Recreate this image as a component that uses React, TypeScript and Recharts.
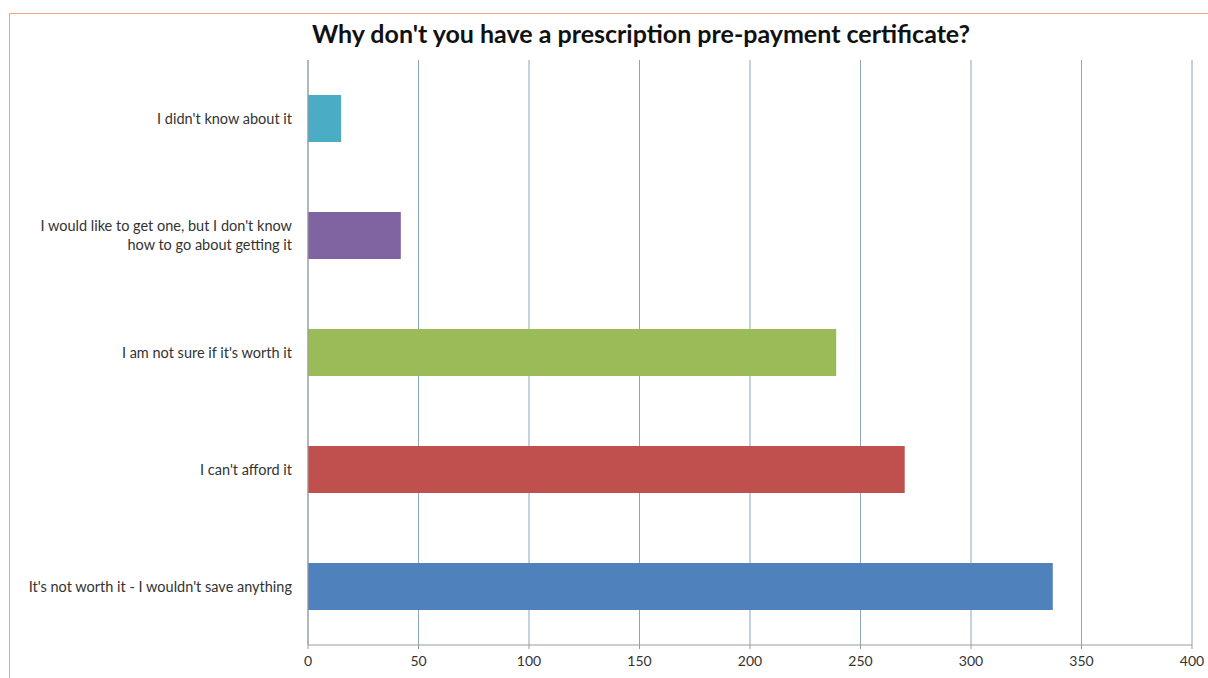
import { BarChart, Bar, XAxis, YAxis, CartesianGrid, Cell } from 'recharts';

const REASONS = [
  "I didn't know about it",
  "I would like to get one, but I don't know\nhow to go about getting it",
  "I am not sure if it's worth it",
  "I can't afford it",
  "It's not worth it - I wouldn't save anything",
];
const COUNTS = [15, 42, 239, 270, 337];
const BAR_COLORS = ['#4BACC6', '#8064A2', '#9BBB59', '#C0504D', '#4F81BD'];
const X_TICKS = [0, 50, 100, 150, 200, 250, 300, 350, 400];

const data = REASONS.map((reason, i) => ({ reason, count: COUNTS[i] }));

const FONT = 'Lato, "Open Sans", sans-serif';

// multi-line category labels, right aligned against the axis
const ReasonTick = (props: any) => {
  const { x, y, payload } = props;
  const lines = String(payload.value).split('\n');
  const lh = 19;
  const start = y - ((lines.length - 1) * lh) / 2;
  return (
    <text x={x - 8} y={start} textAnchor="end" fontFamily={FONT} fontSize={14.5} fill="#333">
      {lines.map((l, i) => (
        <tspan key={i} x={x - 8} y={start + i * lh} dy="0.35em">
          {l}
        </tspan>
      ))}
    </text>
  );
};

export default function App() {
  return (
    <div style={{ position: 'absolute', left: 0, top: 0, width: 1208, height: 678, background: '#fff', overflow: 'hidden' }}>
      <div
        style={{
          position: 'absolute',
          left: 9,
          top: 13,
          width: 1220,
          height: 700,
          border: '1px solid #f4a582',
        }}
      />
      <div
        style={{
          position: 'absolute',
          left: 0,
          width: 1282,
          top: 18,
          textAlign: 'center',
          fontFamily: FONT,
          fontWeight: 'bold',
          fontSize: 25,
          color: '#111',
        }}
      >
        Why don't you have a prescription pre-payment certificate?
      </div>
      <div style={{ position: 'absolute', left: 0, top: 0 }}>
        <BarChart
          width={1208}
          height={678}
          layout="vertical"
          data={data}
          margin={{ top: 60, right: 16, bottom: 0, left: 0 }}
        >
          <CartesianGrid horizontal={false} stroke="#8aa6bd" strokeWidth={1} />
          <XAxis
            type="number"
            domain={[0, 400]}
            ticks={X_TICKS}
            interval={0}
            stroke="#9a9a9a"
            tickLine={{ stroke: '#9a9a9a' }}
            tickSize={4}
            tick={{ fontFamily: FONT, fontSize: 14, fill: '#333' }}
            tickMargin={7}
            height={33}
          />
          <YAxis
            type="category"
            dataKey="reason"
            width={308}
            stroke="#9a9a9a"
            tickLine={false}
            tick={<ReasonTick />}
            interval={0}
          />
          <Bar dataKey="count" barSize={47} isAnimationActive={false}>
            {data.map((d, i) => (
              <Cell key={d.reason} fill={BAR_COLORS[i]} />
            ))}
          </Bar>
        </BarChart>
      </div>
    </div>
  );
}
